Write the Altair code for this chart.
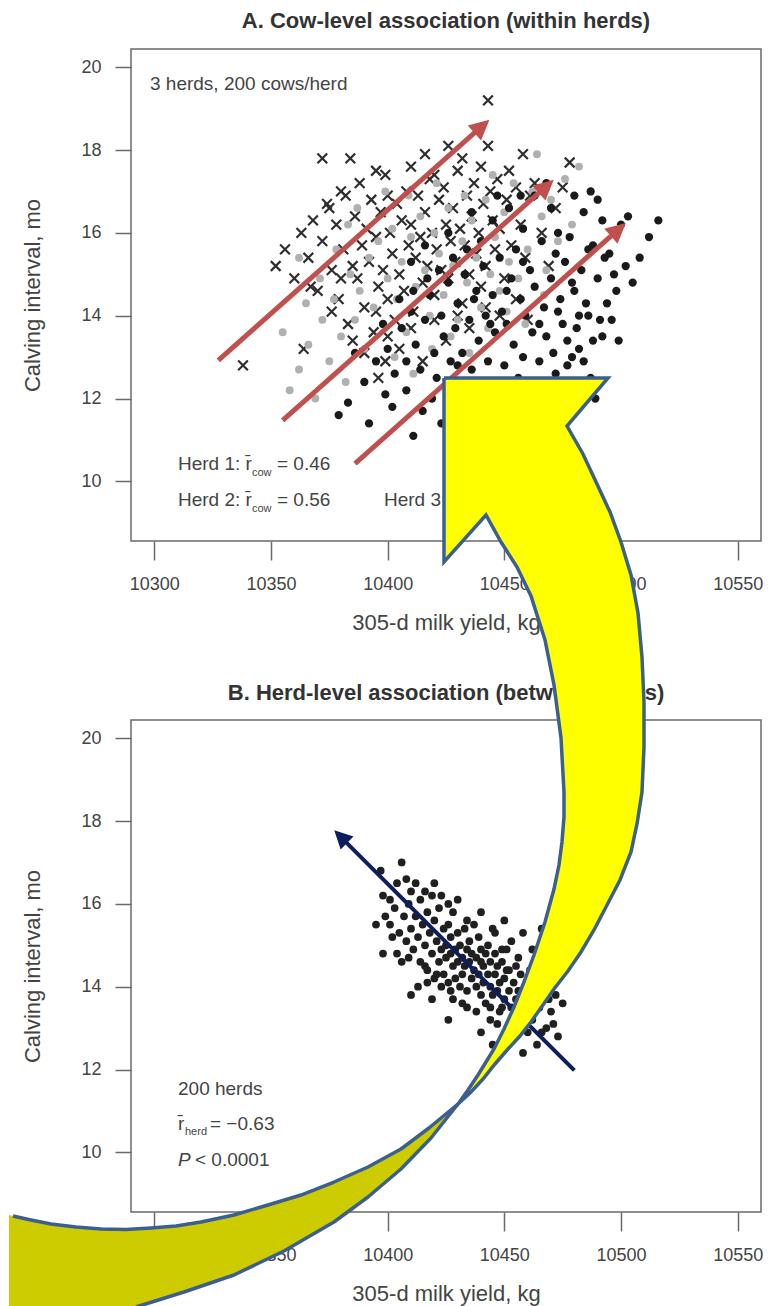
import altair as alt
import pandas as pd

# ---------------- data ----------------
X_TICKS = [10300, 10350, 10400, 10450, 10500, 10550]
Y_TICKS = [10, 12, 14, 16, 18, 20]
X_DOMAIN = [10290, 10560]
Y_DOMAIN = [8.56, 20.44]

# Panel A - herd 1 (x markers): (305-d milk yield kg, calving interval mo)
herd1_cows = [
    (10338, 12.8), (10364, 13.2), (10372, 17.8), (10384, 17.8), (10416, 17.9), (10426, 18.1), (10443, 19.2),
    (10443, 18.1), (10478, 17.7), (10376, 14.1), (10367, 14.7), (10396, 12.5), (10399, 12.9),
    (10352, 15.2), (10356, 15.6), (10360, 14.9), (10363, 16.0), (10366, 15.4), (10368, 16.3), (10370, 14.6),
    (10372, 15.8), (10374, 16.7), (10376, 15.1), (10378, 16.2), (10379, 14.4), (10381, 15.6), (10382, 16.9),
    (10383, 13.8), (10385, 15.2), (10386, 16.4), (10387, 14.9), (10388, 17.2), (10389, 15.7), (10390, 14.2),
    (10391, 16.1), (10392, 15.3), (10393, 16.8), (10394, 13.6), (10395, 15.9), (10396, 14.7), (10397, 16.5),
    (10398, 15.1), (10399, 17.4), (10400, 14.4), (10401, 16.0), (10402, 15.5), (10403, 13.9), (10404, 16.7),
    (10405, 15.0), (10406, 16.3), (10407, 14.6), (10408, 17.0), (10409, 15.7), (10410, 16.2), (10411, 14.1),
    (10412, 15.4), (10413, 16.9), (10414, 15.9), (10415, 14.8), (10416, 16.5), (10417, 15.2), (10418, 17.3),
    (10419, 16.0), (10420, 14.5), (10421, 15.6), (10422, 16.8), (10423, 15.1), (10424, 17.1), (10425, 16.2),
    (10426, 14.9), (10427, 15.8), (10428, 16.6), (10429, 15.3), (10430, 17.5), (10431, 16.1), (10432, 14.3),
    (10433, 15.7), (10434, 16.9), (10435, 15.0), (10436, 16.4), (10437, 17.2), (10438, 15.5), (10439, 16.0),
    (10440, 14.7), (10441, 16.7), (10442, 15.2), (10444, 17.0), (10445, 16.3), (10446, 15.6), (10447, 17.3),
    (10448, 16.1), (10450, 14.9), (10451, 16.8), (10453, 15.7), (10455, 17.1), (10457, 16.2), (10459, 15.4),
    (10461, 16.9), (10463, 17.2), (10466, 16.0), (10469, 15.2), (10472, 16.6), (10475, 17.1),
    (10380, 14.9), (10385, 13.4), (10390, 13.1), (10395, 14.1), (10400, 13.5), (10405, 13.2), (10410, 13.7),
    (10415, 12.9), (10420, 13.9), (10425, 13.4), (10430, 14.0), (10435, 13.7), (10442, 14.2), (10448, 14.0),
    (10455, 14.4), (10460, 13.9), (10375, 16.6), (10380, 17.0), (10395, 17.5), (10400, 16.9), (10410, 17.6),
    (10420, 17.4), (10432, 17.8), (10440, 17.6), (10452, 17.5), (10458, 17.9),
]

# Panel A - herd 2 (grey dots)
herd2_cows = [
    (10358, 12.2), (10362, 12.7), (10366, 13.3), (10369, 12.0), (10372, 13.9), (10375, 12.9), (10377, 14.4),
    (10380, 13.5), (10382, 12.4), (10384, 15.0), (10386, 13.9), (10388, 14.6), (10390, 13.2), (10392, 15.4),
    (10394, 14.2), (10396, 15.8), (10398, 13.8), (10400, 14.9), (10402, 16.1), (10404, 14.4), (10406, 15.3),
    (10408, 13.6), (10410, 15.9), (10412, 14.7), (10414, 16.4), (10416, 15.1), (10418, 14.0), (10420, 16.0),
    (10422, 15.5), (10424, 14.5), (10426, 16.6), (10428, 15.2), (10430, 13.9), (10432, 15.8), (10434, 14.8),
    (10436, 16.3), (10438, 15.4), (10440, 14.2), (10442, 16.8), (10444, 15.0), (10446, 15.9), (10448, 14.6),
    (10450, 16.5), (10452, 15.3), (10454, 17.2), (10456, 14.9), (10458, 16.1), (10460, 15.6), (10462, 17.0),
    (10464, 17.9), (10466, 16.4), (10468, 15.1), (10470, 16.8), (10473, 15.8), (10476, 17.3), (10479, 16.2),
    (10482, 17.6), (10395, 12.9), (10403, 13.0), (10411, 12.6), (10419, 13.2), (10427, 13.5), (10435, 13.1),
    (10443, 13.7), (10451, 14.1), (10459, 13.8), (10467, 14.5), (10387, 16.6), (10399, 17.0), (10409, 16.9),
    (10421, 17.2), (10433, 16.9), (10445, 17.4), (10378, 15.6), (10383, 16.2), (10371, 14.9), (10365, 14.3),
    (10362, 15.4), (10355, 13.6),
]

# Panel A - herd 3 (black dots)
herd3_cows = [
    (10379, 11.6), (10383, 11.9), (10392, 11.4), (10399, 12.1), (10411, 11.1), (10415, 11.7), (10423, 11.4),
    (10430, 11.0), (10437, 11.8), (10445, 11.3), (10452, 11.9), (10460, 11.5), (10468, 12.0), (10474, 11.9),
    (10480, 12.4), (10516, 16.3), (10500, 16.2), (10487, 17.0), (10490, 16.8), (10492, 16.3), (10495, 15.5),
    (10502, 15.2), (10505, 14.8), (10508, 15.4), (10498, 14.6), (10496, 13.9), (10491, 13.9), (10488, 13.4),
    (10482, 13.2), (10485, 14.3), (10479, 14.8), (10476, 15.3), (10473, 16.0), (10470, 16.6),
    (10400, 13.2), (10403, 12.6), (10406, 13.7), (10408, 12.9), (10410, 14.1), (10412, 13.3), (10414, 12.7),
    (10416, 13.9), (10418, 14.5), (10420, 13.1), (10421, 12.5), (10423, 14.0), (10424, 13.5), (10426, 14.8),
    (10427, 12.9), (10429, 13.7), (10430, 14.3), (10432, 13.1), (10433, 15.0), (10435, 13.9), (10436, 12.7),
    (10438, 14.6), (10439, 13.4), (10441, 15.2), (10442, 14.0), (10443, 12.9), (10445, 14.5), (10446, 13.6),
    (10448, 15.4), (10449, 14.1), (10450, 12.8), (10451, 13.8), (10453, 14.9), (10454, 13.3), (10455, 15.6),
    (10457, 14.4), (10458, 13.0), (10459, 14.0), (10461, 15.1), (10462, 13.6), (10463, 14.7), (10465, 12.9),
    (10466, 15.8), (10467, 14.2), (10468, 13.5), (10470, 14.9), (10471, 13.1), (10472, 15.5), (10474, 14.4),
    (10475, 13.8), (10477, 12.8), (10478, 15.9), (10480, 14.6), (10481, 13.7), (10483, 15.1), (10484, 12.9),
    (10486, 14.0), (10488, 15.7), (10490, 14.9), (10492, 13.5), (10494, 14.3), (10497, 15.0), (10445, 16.3),
    (10452, 16.6), (10458, 16.1), (10463, 16.9), (10440, 15.8), (10434, 15.6), (10428, 15.4), (10422, 15.1),
    (10417, 14.9), (10411, 14.6), (10405, 14.4), (10398, 13.8), (10395, 12.9), (10390, 12.4), (10386, 13.1),
    (10402, 11.8), (10408, 12.2), (10419, 12.0), (10426, 12.3), (10434, 12.1), (10441, 12.4), (10448, 12.2),
    (10456, 12.5), (10464, 12.3), (10472, 12.6), (10479, 13.0), (10487, 12.5), (10410, 15.3), (10416, 15.7),
    (10426, 16.0), (10436, 16.5), (10447, 16.9), (10457, 16.9), (10468, 17.2), (10484, 16.5), (10497, 16.0),
    (10503, 16.4), (10512, 15.9), (10480, 16.9), (10486, 15.6), (10493, 15.4), (10499, 13.4), (10489, 12.0),
    (10476, 11.2), (10465, 11.1), (10455, 10.9), (10444, 10.8), (10430, 12.8), (10437, 14.4), (10444, 13.8),
    (10451, 14.6), (10458, 15.3), (10465, 13.8), (10473, 14.1), (10482, 14.0), (10477, 13.4), (10469, 12.4),
]

# Panel B - herd means (200 herds)
herd_means = [
    (10406, 17.0), (10397, 16.8), (10398, 16.2), (10401, 16.1), (10395, 15.5), (10401, 15.5), (10398, 14.8),
    (10404, 14.8), (10406, 14.6), (10410, 16.3), (10419, 16.2), (10423, 16.2), (10426, 16.0), (10434, 15.6),
    (10446, 15.3), (10413, 14.0), (10417, 14.1), (10419, 13.7), (10423, 14.0), (10428, 13.7), (10434, 13.5),
    (10449, 13.5), (10456, 14.7), (10456, 13.9), (10444, 13.5), (10444, 13.2), (10447, 13.1), (10464, 12.6),
    (10470, 13.4), (10472, 13.8), (10466, 15.4), (10440, 14.6), (10449, 14.9), (10451, 14.4),
    (10403, 15.9), (10405, 15.3), (10407, 15.7), (10408, 15.1), (10409, 16.0), (10410, 15.4), (10411, 14.9),
    (10412, 15.7), (10413, 15.2), (10414, 16.1), (10414, 14.6), (10415, 15.5), (10416, 15.0), (10417, 15.8),
    (10417, 14.4), (10418, 15.3), (10419, 14.8), (10420, 15.6), (10420, 14.2), (10421, 15.1), (10422, 14.6),
    (10422, 15.9), (10423, 14.9), (10424, 15.4), (10424, 14.3), (10425, 15.0), (10425, 14.7), (10426, 15.5),
    (10426, 14.1), (10427, 14.8), (10427, 15.2), (10428, 14.5), (10428, 15.8), (10429, 14.9), (10429, 14.2),
    (10430, 15.3), (10430, 14.6), (10431, 14.0), (10431, 15.0), (10432, 14.7), (10432, 14.3), (10433, 15.4),
    (10433, 14.5), (10434, 14.9), (10434, 13.9), (10435, 14.6), (10435, 15.1), (10436, 14.2), (10436, 14.8),
    (10437, 14.4), (10437, 15.5), (10438, 14.0), (10438, 14.7), (10439, 14.3), (10439, 15.2), (10440, 13.8),
    (10440, 14.9), (10441, 14.5), (10441, 14.1), (10442, 14.8), (10442, 13.6), (10443, 14.3), (10443, 15.0),
    (10444, 14.0), (10444, 14.6), (10445, 13.8), (10445, 15.4), (10446, 14.3), (10446, 14.8), (10447, 13.9),
    (10447, 14.5), (10448, 14.1), (10448, 13.4), (10449, 14.6), (10450, 13.7), (10450, 14.2), (10451, 14.9),
    (10452, 13.9), (10452, 14.4), (10453, 13.5), (10453, 15.1), (10454, 14.1), (10455, 13.7), (10455, 14.5),
    (10457, 13.9), (10457, 14.3), (10458, 13.3), (10459, 14.0), (10460, 13.6), (10461, 14.4), (10462, 13.2),
    (10463, 13.8), (10465, 13.5), (10467, 14.1), (10468, 13.0), (10469, 13.7), (10471, 13.1), (10473, 14.3),
    (10475, 13.6), (10460, 12.9), (10455, 12.8), (10452, 13.1), (10438, 13.4), (10432, 13.6), (10427, 13.9),
    (10421, 14.3), (10416, 14.5), (10409, 14.7), (10402, 15.2), (10399, 15.7), (10404, 16.5), (10408, 16.6),
    (10412, 16.5), (10416, 16.3), (10420, 16.5), (10430, 16.1), (10440, 15.8), (10450, 15.6), (10458, 15.3),
    (10462, 14.9), (10410, 13.8), (10426, 13.2), (10440, 12.9), (10445, 12.6), (10458, 12.4), (10466, 12.9),
    (10473, 12.8),
]

# Red arrows (panel A): start, end of shaft, tip
red_arrow_start = [(10327.4, 12.92), (10355.0, 11.47), (10386.0, 10.43)]
red_arrow_shaft_end = [(10439.1, 18.51), (10466.7, 17.06), (10497.6, 16.02)]
red_arrow_tip = [(10443.6, 18.73), (10471.2, 17.28), (10502.1, 16.24)]

# Navy arrow (panel B)
navy_arrow_start = [(10480.0, 11.98)]
navy_arrow_shaft_end = [(10380.7, 17.57)]
navy_arrow_tip = [(10377.1, 17.78)]

# Big curved callout arrow, outline in panel-B data units
yellow_front = [
    (10424.14, 28.698), (10494.43, 28.698), (10476.86, 27.539), (10483.71, 26.863), (10489.71, 26.139),
    (10495.29, 25.462), (10500.00, 24.738), (10504.29, 23.941), (10507.29, 23.024), (10509.00, 21.961),
    (10509.86, 20.875), (10509.86, 19.788), (10509.00, 18.701), (10506.86, 17.929), (10504.29, 17.253),
    (10499.57, 16.577), (10493.57, 15.925), (10488.43, 15.369), (10482.86, 14.838), (10477.29, 14.379),
    (10471.29, 13.945), (10466.57, 13.558), (10461.43, 13.148), (10456.71, 12.810), (10451.57, 12.496),
    (10446.00, 12.134), (10440.86, 11.771), (10435.71, 11.458), (10430.14, 11.168),
    (10434.43, 11.506), (10438.71, 11.868), (10442.14, 12.182), (10445.57, 12.496), (10449.86, 12.979),
    (10454.14, 13.510), (10458.43, 14.114), (10462.71, 14.766), (10467.43, 15.562), (10471.29, 16.359),
    (10473.43, 16.939), (10474.71, 17.494), (10475.57, 18.098), (10475.57, 18.701), (10474.29, 20.005),
    (10471.29, 21.285), (10467.43, 22.372), (10461.43, 23.434), (10455.43, 24.134), (10448.57, 24.738),
    (10442.14, 25.390), (10424.14, 24.255), (10424.14, 28.698),
]
olive_back = [
    (10430.14, 11.168), (10417.71, 10.588), (10405.71, 10.081), (10391.57, 9.647), (10377.00, 9.284),
    (10362.86, 8.970), (10348.71, 8.729), (10334.14, 8.488), (10320.00, 8.319), (10309.29, 8.222),
    (10298.57, 8.174), (10287.86, 8.137), (10277.14, 8.149), (10266.43, 8.198), (10255.71, 8.270),
    (10247.14, 8.367), (10237.71, 8.488), (10237.71, 6.242), (10291.29, 6.242), (10312.71, 6.628),
    (10334.14, 7.039), (10355.57, 7.618), (10377.00, 8.319), (10391.57, 8.922), (10405.71, 9.598),
    (10418.57, 10.347), (10430.14, 11.168),
]
olive_edge_upper = [
    (10239.43, 8.463), (10247.14, 8.367), (10255.71, 8.270), (10266.43, 8.198), (10277.14, 8.149),
    (10287.86, 8.137), (10298.57, 8.174), (10309.29, 8.222), (10320.00, 8.319), (10334.14, 8.488),
    (10348.71, 8.729), (10362.86, 8.970), (10377.00, 9.284), (10391.57, 9.647), (10405.71, 10.081),
    (10417.71, 10.588), (10430.14, 11.168),
]
olive_edge_lower = [
    (10292.14, 6.266), (10312.71, 6.628), (10334.14, 7.039), (10355.57, 7.618), (10377.00, 8.319),
    (10391.57, 8.922), (10405.71, 9.598), (10418.57, 10.347), (10430.14, 11.168),
]

# ---------------- styling ----------------
FONT = "Liberation Sans"
TXT = "#444444"
W, H = 630, 492


def frame(pairs, **extra):
    df = pd.DataFrame(pairs, columns=["x", "y"])
    df["i"] = range(len(df))
    for k, v in extra.items():
        df[k] = v
    return df


def X():
    return alt.X("x:Q", scale=alt.Scale(domain=X_DOMAIN, nice=False, zero=False),
                 axis=alt.Axis(values=X_TICKS, format="d", title="305-d milk yield, kg",
                               tickSize=19, labelPadding=15, titlePadding=19))


def Y():
    return alt.Y("y:Q", scale=alt.Scale(domain=Y_DOMAIN, nice=False, zero=False),
                 axis=alt.Axis(values=Y_TICKS, format="d", title="Calving interval, mo",
                               tickSize=16, labelPadding=14, titlePadding=36))


ONE = pd.DataFrame({"k": [0]})


def txt(s, x, y, size=19, style="normal", weight="normal", color=TXT, align="left"):
    return alt.Chart(ONE).mark_text(text=s, align=align, baseline="middle", fontSize=size,
                                    fontStyle=style, fontWeight=weight, font=FONT,
                                    color=color).encode(x=alt.value(x), y=alt.value(y))


def arrow_lines(starts, ends):
    rows = []
    for k, (s, e) in enumerate(zip(starts, ends)):
        rows.append({"x": s[0], "y": s[1], "a": k, "i": 0})
        rows.append({"x": e[0], "y": e[1], "a": k, "i": 1})
    return pd.DataFrame(rows)


HEAD = "M0,0L1,2L-1,2Z"

# ---------------- panel A ----------------
a_h1 = alt.Chart(frame(herd1_cows)).mark_point(
    shape="M-1,-1L1,1M1,-1L-1,1", size=95, strokeWidth=2.2, color="#2e2e2e", filled=False, opacity=1
).encode(x=X(), y=Y())
a_h2 = alt.Chart(frame(herd2_cows)).mark_circle(size=62, color="#b0b0b0", opacity=1).encode(x=X(), y=Y())
a_h3 = alt.Chart(frame(herd3_cows)).mark_circle(size=68, color="#1a1a1a", opacity=1).encode(x=X(), y=Y())
a_red = alt.Chart(arrow_lines(red_arrow_start, red_arrow_shaft_end)).mark_line(
    color="#c0504d", strokeWidth=5, strokeCap="butt"
).encode(x=X(), y=Y(), detail="a:N", order="i:Q")
a_heads = alt.Chart(frame(red_arrow_tip)).mark_point(
    shape=HEAD, size=400, angle=48.5, filled=True, color="#c0504d", opacity=1
).encode(x=X(), y=Y())

a_texts = [
    txt("A. Cow-level association (within herds)", W / 2, -28.5, size=22, weight="bold",
        color="#333333", align="center"),
    txt("3 herds, 200 cows/herd", 19, 35),
    txt("Herd 1: r\u0304", 47, 415), txt("cow", 121, 424, size=11), txt("= 0.46", 146, 415),
    txt("Herd 2: r\u0304", 47, 451), txt("cow", 121, 460, size=11), txt("= 0.56", 146, 451),
    txt("Herd 3: r\u0304", 253, 451), txt("cow", 327, 460, size=11), txt("= 0.51", 352, 451),
]

panel_a = alt.layer(a_h1, a_h2, a_h3, a_red, a_heads, *a_texts).properties(width=W, height=H)

# ---------------- panel B ----------------
b_pts = alt.Chart(frame(herd_means)).mark_circle(size=60, color="#202020", opacity=1).encode(x=X(), y=Y())
b_navy = alt.Chart(arrow_lines(navy_arrow_start, navy_arrow_shaft_end)).mark_line(
    color="#0b1f5c", strokeWidth=4, strokeCap="butt"
).encode(x=X(), y=Y(), detail="a:N", order="i:Q")
b_head = alt.Chart(frame(navy_arrow_tip)).mark_point(
    shape=HEAD, size=330, angle=315, filled=True, color="#0b1f5c", opacity=1
).encode(x=X(), y=Y())

b_texts = [
    txt("B. Herd-level association (between herds)", W / 2, -27.5, size=22, weight="bold",
        color="#333333", align="center"),
    txt("200 herds", 47, 369),
    txt("r\u0304", 47, 404), txt("herd", 54, 412, size=11), txt("= \u22120.63", 79, 404),
    txt("P", 47, 440, style="italic"), txt("< 0.0001", 64, 440),
]

OUTLINE = "#3b5f8e"
b_olive = alt.Chart(frame(olive_back)).mark_line(
    fill="#cccc00", strokeWidth=0, strokeOpacity=0
).encode(x=X(), y=Y(), order="i:Q")
b_olive_edges = alt.Chart(
    pd.concat([frame(olive_edge_upper, part="upper"), frame(olive_edge_lower, part="lower")])
).mark_line(stroke=OUTLINE, strokeWidth=3.5, strokeCap="butt", strokeJoin="round").encode(
    x=X(), y=Y(), detail="part:N", order="i:Q")
b_yellow = alt.Chart(frame(yellow_front)).mark_line(
    fill="#ffff00", stroke=OUTLINE, strokeWidth=3.5, strokeJoin="miter", strokeMiterLimit=10
).encode(x=X(), y=Y(), order="i:Q")

panel_b = alt.layer(b_pts, b_navy, b_head, *b_texts, b_olive, b_olive_edges, b_yellow).properties(
    width=W, height=H)

chart = alt.vconcat(panel_a, panel_b, spacing=179, bounds="flush").properties(
    padding=0
).configure_view(
    stroke="#6a6a6a", strokeWidth=1.5
).configure_axis(
    domain=False, grid=False, tickColor="#6a6a6a", tickWidth=1.5,
    labelFont=FONT, labelFontSize=18, labelColor=TXT,
    titleFont=FONT, titleFontSize=22, titleFontWeight="normal", titleColor=TXT, zindex=0
)

chart.save("out.html", embed_options={"renderer": "svg", "actions": False})
